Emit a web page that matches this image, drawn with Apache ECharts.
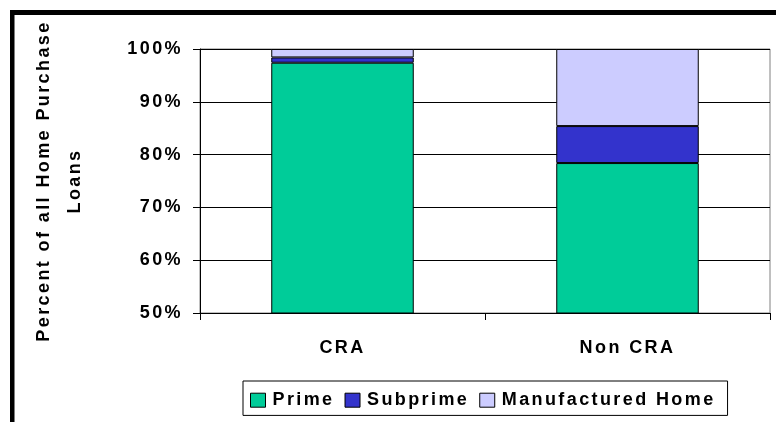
<!DOCTYPE html>
<html>
<head>
<meta charset="utf-8">
<script src="https://cdn.jsdelivr.net/npm/echarts@6/dist/echarts.min.js"></script>
<style>
  html, body { margin: 0; padding: 0; background: #fff; }
  #chart { width: 776px; height: 422px; }
</style>
</head>
<body>
<div id="chart"></div>
<script>
// Share of home purchase loans by lender type (stacked to 100%)
const categories = ['CRA', 'Non CRA'];
const primeShare = [97.4, 78.4];
const subprimeShare = [1.0, 7.0];
const manufacturedShare = [1.6, 14.6];
const yTicks = { min: 50, max: 100, step: 10 };

// Expanded lettering for every label (applied to drawing and measuring alike)
const SPACING = '2.4px';
const proto = CanvasRenderingContext2D.prototype;
const origFill = proto.fillText;
const origMeasure = proto.measureText;
proto.fillText = function () { this.letterSpacing = SPACING; return origFill.apply(this, arguments); };
proto.measureText = function () { this.letterSpacing = SPACING; return origMeasure.apply(this, arguments); };

const FONT = 'Arial, "Liberation Sans", Helvetica, sans-serif';
const textBase = { color: '#000', fontFamily: FONT, fontWeight: 'bold', fontSize: 18 };

const chart = echarts.init(document.getElementById('chart'), null, { renderer: 'canvas' });

const barSeries = (name, data, color) => ({
  name, type: 'bar', stack: 'share', data,
  barWidth: '50%',
  itemStyle: { color, borderColor: '#000', borderWidth: 1 },
  emphasis: { disabled: true }
});

chart.setOption({
  animation: false,
  backgroundColor: '#fff',
  grid: {
    left: 200, right: 6, top: 49, bottom: 109,
    show: true, borderColor: '#808080', borderWidth: 1,
    outerBoundsMode: 'none'
  },
  legend: {
    left: 243, top: 381,
    padding: [9, 12, 5, 7],
    borderColor: '#000', borderWidth: 1,
    itemWidth: 15, itemHeight: 14, itemGap: 10,
    icon: 'rect',
    itemStyle: { borderColor: '#000', borderWidth: 1 },
    textStyle: Object.assign({}, textBase, { lineHeight: 18, padding: [0, 0, 0, 2] }),
    data: ['Prime', 'Subprime', 'Manufactured Home']
  },
  xAxis: {
    type: 'category',
    data: categories,
    axisLine: { lineStyle: { color: '#000', width: 1 } },
    axisTick: { show: true, length: 7, lineStyle: { color: '#000' } },
    axisLabel: Object.assign({}, textBase, { margin: 25 })
  },
  yAxis: {
    type: 'value',
    min: yTicks.min, max: yTicks.max, interval: yTicks.step,
    name: 'Percent of all Home Purchase\nLoans',
    nameLocation: 'middle',
    nameRotate: 90,
    nameGap: 109,
    nameTextStyle: Object.assign({}, textBase, { lineHeight: 31 }),
    axisLine: { show: true, lineStyle: { color: '#000', width: 1 } },
    axisTick: { show: true, length: 7, lineStyle: { color: '#000' } },
    axisLabel: Object.assign({}, textBase, { margin: 17, formatter: '{value}%' }),
    splitLine: { show: true, lineStyle: { color: '#000', width: 1 } }
  },
  graphic: [
    { type: 'rect', shape: { x: 10, y: 10, width: 766, height: 5 }, style: { fill: '#000' }, silent: true },
    { type: 'rect', shape: { x: 10, y: 10, width: 4.5, height: 412 }, style: { fill: '#000' }, silent: true }
  ],
  series: [
    barSeries('Prime', primeShare, '#00CC99'),
    barSeries('Subprime', subprimeShare, '#3333CC'),
    barSeries('Manufactured Home', manufacturedShare, '#CCCCFF')
  ]
});
</script>
</body>
</html>
